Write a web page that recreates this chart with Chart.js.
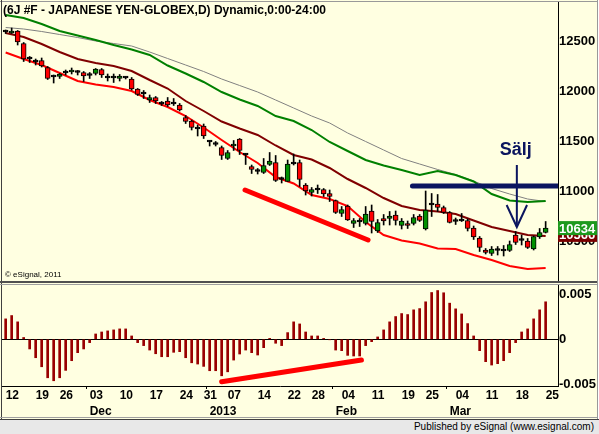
<!DOCTYPE html>
<html lang="en">
<head>
<meta charset="UTF-8">
<title>6J #F - Japanese Yen Globex</title>
<script src="https://cdn.jsdelivr.net/npm/chart.js"></script>
<style>
  html, body { margin: 0; padding: 0; background: #fff; }
  .wrap { position: relative; width: 599px; height: 434px; background: #FFFFE1; overflow: hidden;
          font-family: "Liberation Sans", Arial, sans-serif; }
  canvas { position: absolute; left: 0; }
  #priceChart { top: 0; }
  #oscChart { top: 284px; }
  .ln { position: absolute; }
  .title { position: absolute; left: 3px; top: 3px; font-size: 12px; font-weight: bold; color: #000; white-space: nowrap; }
  .copy { position: absolute; left: 5px; top: 270px; font-size: 8px; color: #000; white-space: nowrap; }
  .footer { position: absolute; left: 0; top: 420px; width: 599px; height: 14px; background: #E8E8E8; }
  .footer span { position: absolute; right: 5px; top: 1px; font-size: 10px; color: #000; white-space: nowrap; }
</style>
</head>
<body>
<div class="wrap">
  <canvas id="priceChart" width="599" height="284"></canvas>
  <canvas id="oscChart" width="599" height="136"></canvas>
  <div class="title">(6J #F - JAPANESE YEN-GLOBEX,D) Dynamic,0:00-24:00</div>
  <div class="copy">&copy; eSignal, 2011</div>
  <div class="ln" style="left:0;top:1px;width:599px;height:1px;background:#999"></div>
  <div class="ln" style="left:1px;top:0;width:1px;height:420px;background:#404040"></div>
  <div class="ln" style="left:597px;top:0;width:1px;height:434px;background:#999"></div>
  <div class="ln" style="left:598px;top:0;width:1px;height:434px;background:#fff"></div>
  <div class="ln" style="left:0;top:281px;width:597px;height:2px;background:#505050"></div>
  <div class="ln" style="left:0;top:284px;width:597px;height:1px;background:#A0A0A0"></div>
  <div class="ln" style="left:0;top:417px;width:597px;height:1px;background:#A0A0A0"></div>
  <div class="footer"><span>Published by eSignal (www.esignal.com)</span></div>
  <div class="ln" style="left:0;top:419px;width:599px;height:1px;background:#404040"></div>
</div>

<script>
// trading days, index 0 = Nov 12 2012 ... 90 = Mar 25 2013
const weekIdx = [0, 5, 9, 14, 19, 24, 29, 33, 37, 42, 47, 51, 56, 61, 66, 70, 75, 80, 85, 90];
const weekLabels = ['12', '19', '26', '03', '10', '17', '24', '31', '07', '14', '22', '28', '04', '11', '19', '25', '04', '11', '18', '25'];
const monthIdx = [14, 34, 55, 74];
const monthLabels = ['Dec', '2013', 'Feb', 'Mar'];
const priceTicks = [10500, 11000, 11500, 12000, 12500];
const oscTicks = [-0.005, 0, 0.005];
const oscTickLabels = ['-0.005', '0', '0.005'];

const open = [12600, 12585, 12605, 12480, 12330, 12300, 12310, 12240, 12150, 12150,
  12190, 12195, 12195, 12190, 12165, 12180, 12220, 12140, 12140, 12130,
  12140, 12125, 12025, 11980, 11915, 11940, 11880, 11905, 11880, 11865,
  11740, 11705, 11630, 11655, 11500, 11475, 11440, 11330, 11455, 11525,
  11370, 11250, 11205, 11190, 11270, 11290, 11125, 11100, 11280, 11290,
  11065, 10990, 11020, 11020, 10980, 10910, 10780, 10855, 10680, 10700,
  10680, 10805, 10605, 10730, 10730, 10765, 10660, 10680, 10680, 10755,
  10625, 10875, 10875, 10840, 10790, 10705, 10710, 10710, 10635, 10535,
  10415, 10380, 10415, 10410, 10410, 10565, 10515, 10505, 10425, 10545, 10590];
const high = [12615, 12635, 12610, 12490, 12350, 12325, 12335, 12250, 12165, 12180,
  12215, 12235, 12210, 12200, 12190, 12230, 12230, 12175, 12175, 12170,
  12150, 12140, 12030, 12010, 11965, 11950, 11900, 11940, 11930, 11880,
  11760, 11715, 11665, 11675, 11510, 11500, 11455, 11410, 11510, 11530,
  11380, 11265, 11230, 11330, 11390, 11360, 11145, 11315, 11375, 11315,
  11080, 11040, 11065, 11030, 11015, 10915, 10850, 10865, 10730, 10730,
  10850, 10865, 10720, 10770, 10800, 10805, 10730, 10705, 10770, 10770,
  11005, 10980, 10970, 10855, 10800, 10735, 10780, 10725, 10655, 10550,
  10430, 10450, 10450, 10460, 10505, 10600, 10565, 10530, 10555, 10630, 10700];
const low = [12580, 12580, 12465, 12300, 12290, 12265, 12245, 12120, 12085, 12130,
  12165, 12175, 12165, 12100, 12130, 12165, 12140, 12105, 12090, 12105,
  12125, 12015, 11960, 11930, 11890, 11880, 11860, 11850, 11860, 11805,
  11680, 11615, 11555, 11530, 11455, 11455, 11320, 11320, 11410, 11370,
  11270, 11180, 11175, 11180, 11260, 11100, 11085, 11100, 11265, 11050,
  10965, 10955, 10980, 10950, 10900, 10780, 10750, 10710, 10640, 10650,
  10665, 10585, 10590, 10665, 10665, 10665, 10625, 10630, 10665, 10700,
  10615, 10750, 10800, 10780, 10685, 10670, 10700, 10605, 10520, 10400,
  10375, 10360, 10365, 10355, 10400, 10470, 10465, 10430, 10415, 10530, 10585];
const close = [12595, 12605, 12495, 12325, 12325, 12295, 12255, 12130, 12145, 12175,
  12185, 12215, 12190, 12155, 12160, 12225, 12165, 12135, 12135, 12155,
  12135, 12025, 11970, 11975, 11940, 11905, 11875, 11865, 11875, 11815,
  11700, 11640, 11625, 11555, 11495, 11470, 11360, 11390, 11475, 11410,
  11365, 11220, 11200, 11260, 11305, 11110, 11120, 11275, 11275, 11120,
  11005, 11020, 11015, 10975, 10950, 10790, 10820, 10715, 10710, 10695,
  10775, 10700, 10690, 10705, 10755, 10710, 10705, 10660, 10740, 10710,
  10815, 10865, 10840, 10790, 10690, 10700, 10705, 10630, 10545, 10440,
  10390, 10425, 10410, 10405, 10470, 10490, 10510, 10440, 10550, 10590, 10634];

// envelope lines, read every third bar
const lineIdx = [0, 3, 6, 9, 12, 15, 18, 21, 24, 27, 30, 33, 36, 39, 42, 45, 48, 51, 54, 57, 60, 63, 66, 69, 72, 75, 78, 81, 84, 87, 90];
const upperGreen = [12765, 12735, 12675, 12605, 12560, 12515, 12465, 12420, 12365, 12260,
  12180, 12095, 11995, 11920, 11855, 11755, 11705, 11615, 11495, 11405,
  11315, 11260, 11215, 11165, 11205, 11165, 11100, 10975, 10910, 10895, 10905];
const grayAvg = [12640, 12625, 12600, 12570, 12540, 12505, 12480, 12455, 12395, 12330,
  12265, 12200, 12125, 12060, 11995, 11915, 11835, 11755, 11685, 11585,
  11500, 11415, 11330, 11275, 11220, 11170, 11105, 11030, 10975, 10925, 10900];
const midMaroon = [12585, 12545, 12475, 12395, 12325, 12285, 12255, 12205, 12115, 12030,
  11905, 11805, 11700, 11630, 11565, 11460, 11365, 11320, 11235, 11125,
  11035, 10935, 10855, 10815, 10800, 10775, 10710, 10645, 10605, 10565, 10555];
const lowerRed = [12390, 12325, 12265, 12185, 12105, 12070, 12045, 12005, 11915, 11845,
  11755, 11640, 11515, 11395, 11285, 11145, 11080, 10965, 10925, 10855,
  10695, 10565, 10510, 10480, 10430, 10425, 10365, 10315, 10255, 10225, 10235];

const osc = [0.00226, 0.00263, 0.00193, 0.0002, -0.00107, -0.00204, -0.00304, -0.00426, -0.00459, -0.00426,
  -0.00344, -0.00237, -0.00148, -0.00107, -0.00037, 0.00059, 0.00081, 0.00093, 0.00104, 0.00115,
  0.00115, 0.00037, -0.00037, -0.0007, -0.00119, -0.0016, -0.00193, -0.00193, -0.00144, -0.00137,
  -0.00204, -0.0026, -0.00274, -0.003, -0.00348, -0.00348, -0.00404, -0.0036, -0.0023, -0.00163,
  -0.00119, -0.00148, -0.00174, -0.00093, 0.0001, -0.00044, -0.0007, 0.00074, 0.00193, 0.0017,
  0.00081, 0.00037, 0.00037, 0.0001, -0.00005, -0.00119, -0.00126, -0.00178, -0.00185, -0.00185,
  -0.0007, -0.00026, 0.00026, 0.00104, 0.00193, 0.00252, 0.00285, 0.00274, 0.00326, 0.0034,
  0.00415, 0.00518, 0.0054, 0.00515, 0.004, 0.00337, 0.00281, 0.00174, 0.00037, -0.00126,
  -0.00248, -0.00285, -0.0027, -0.00237, -0.00148, -0.00037, 0.00081, 0.00115, 0.00226, 0.00326, 0.00415];

// hand drawn marks (bar index / price)
const priceTrendX = [39.9, 60.4];
const priceTrendY = [11015, 10515];
const oscTrendX = [36, 59.3];
const oscTrendY = [-0.0047, -0.0023];
const resistX = [67.8, 92.1];
const resistY = [11055, 11055];
const arrowX = [85.2, 85.2];
const arrowY = [11265, 10645];
const arrowHeadX = [83.5, 85.2, 86.9];
const arrowHeadY = [10865, 10645, 10865];
const lastPrice = 10634;
const maroonLast = 10566;

const xMin = -0.61, xMax = 92.06;
const navy = '#0B155F';

const bodyColor = open.map((o, i) => {
  const c = close[i];
  if (Math.abs(c - o) <= 10) return '#000';
  return c < o ? '#FF0000' : '#009000';
});

const pts = (xs, ys) => xs.map((x, i) => ({ x: x, y: ys[i] }));

// fixed axis width, and no extra room for half-labels at the ends
function rightAxisFit(scale) {
  scale.width = 41;
  scale.paddingTop = 0;
  scale.paddingBottom = 0;
}

const priceLabels = {
  id: 'priceLabels',
  afterDraw(chart) {
    const ctx = chart.ctx;
    const y = chart.scales.y;
    const x = chart.scales.x;
    ctx.save();
    ctx.font = 'bold 13px "Liberation Sans", Arial, sans-serif';
    ctx.textBaseline = 'middle';
    ctx.textAlign = 'left';
    let py = y.getPixelForValue(maroonLast);
    ctx.fillStyle = '#7A0000';
    ctx.fillRect(558, py - 7, 39, 14);
    ctx.fillStyle = '#fff';
    ctx.fillText(String(maroonLast), 559, py + 1);
    py = y.getPixelForValue(lastPrice);
    ctx.fillStyle = '#1E9A1E';
    ctx.fillRect(558, py - 7, 39, 14);
    ctx.fillStyle = '#fff';
    ctx.fillText(String(lastPrice), 559, py + 1);
    // Sälj
    ctx.font = 'bold 18px "Liberation Sans", Arial, sans-serif';
    ctx.fillStyle = navy;
    ctx.textAlign = 'center';
    ctx.textBaseline = 'alphabetic';
    ctx.fillText('Sälj', x.getPixelForValue(arrowX[0]) - 1, y.getPixelForValue(11370) + 0.5);
    ctx.restore();
  }
};

new Chart(document.getElementById('priceChart'), {
  type: 'bar',
  data: {
    datasets: [
      { type: 'line', data: pts(lineIdx, upperGreen), borderColor: '#008000', borderWidth: 2, pointRadius: 0, order: 5 },
      { type: 'line', data: pts(lineIdx, grayAvg), borderColor: '#808080', borderWidth: 1, pointRadius: 0, order: 5 },
      { type: 'line', data: pts(lineIdx, midMaroon), borderColor: '#800000', borderWidth: 2, pointRadius: 0, order: 5 },
      { type: 'line', data: pts(lineIdx, lowerRed), borderColor: '#FF0000', borderWidth: 2, pointRadius: 0, order: 5 },
      { type: 'bar', data: open.map((o, i) => ({ x: i, y: [low[i], high[i]] })),
        backgroundColor: '#000', barThickness: 1, grouped: false, order: 3 },
      { type: 'bar', data: open.map((o, i) => ({ x: i, y: [o, close[i]] })),
        backgroundColor: bodyColor, borderColor: '#000', borderWidth: 1, borderSkipped: false,
        barThickness: 5, minBarLength: 2, grouped: false, order: 2 },
      { type: 'line', data: pts(priceTrendX, priceTrendY), borderColor: '#FF0000', borderWidth: 5,
        borderCapStyle: 'round', pointRadius: 0, order: 1 },
      { type: 'line', data: pts(resistX, resistY), borderColor: navy, borderWidth: 5,
        borderCapStyle: 'round', pointRadius: 0, order: 1 },
      { type: 'line', data: pts(arrowX, arrowY), borderColor: navy, borderWidth: 2, pointRadius: 0, order: 1 },
      { type: 'line', data: pts(arrowHeadX, arrowHeadY), borderColor: navy, borderWidth: 2, pointRadius: 0, order: 1 }
    ]
  },
  options: {
    responsive: false,
    animation: false,
    devicePixelRatio: 1,
    layout: { autoPadding: false, padding: { left: 2, right: 0, top: 2, bottom: 2 } },
    plugins: { legend: { display: false }, tooltip: { enabled: false } },
    scales: {
      x: { type: 'linear', min: xMin, max: xMax, offset: false, display: false },
      y: {
        position: 'right', min: 10095, max: 12895,
        afterBuildTicks: (s) => { s.ticks = priceTicks.map(v => ({ value: v })); },
        afterFit: rightAxisFit,
        grid: { display: false, drawTicks: false },
        border: { display: true, color: '#000', width: 1 },
        ticks: { color: '#000', padding: 1, font: { size: 13, weight: 'bold', family: '"Liberation Sans", Arial, sans-serif' },
          callback: (v) => String(v) }
      }
    }
  },
  plugins: [priceLabels]
});

const monthTicks = {
  id: 'monthTicks',
  afterDraw(chart) {
    const ctx = chart.ctx;
    const x = chart.scales.x;
    ctx.save();
    ctx.strokeStyle = '#000';
    ctx.lineWidth = 1;
    monthIdx.forEach(m => {
      const px = Math.round(x.getPixelForValue(m - 0.6)) + 0.5;
      ctx.beginPath();
      ctx.moveTo(px, chart.chartArea.bottom);
      ctx.lineTo(px, chart.chartArea.bottom + 3);
      ctx.stroke();
    });
    ctx.restore();
  }
};

const tickFont = { size: 12, weight: 'bold', family: '"Liberation Sans", Arial, sans-serif' };

new Chart(document.getElementById('oscChart'), {
  type: 'bar',
  data: {
    datasets: [
      { type: 'line', data: pts(oscTrendX, oscTrendY), borderColor: '#FF0000', borderWidth: 5,
        borderCapStyle: 'round', pointRadius: 0, order: 1 },
      { type: 'bar', data: osc.map((v, i) => ({ x: i, y: v })), backgroundColor: '#990000',
        barThickness: 2, order: 2 }
    ]
  },
  options: {
    responsive: false,
    animation: false,
    devicePixelRatio: 1,
    layout: { autoPadding: false, padding: { left: 2, right: 0, top: 1, bottom: 0 } },
    plugins: { legend: { display: false }, tooltip: { enabled: false } },
    scales: {
      x: {
        type: 'linear', position: 'bottom', min: xMin, max: xMax, offset: false, weight: 0,
        afterBuildTicks: (s) => { s.ticks = weekIdx.map(v => ({ value: v })); },
        afterFit: (s) => { s.height = 16; s.paddingLeft = 0; s.paddingRight = 0; },
        grid: { display: false, drawTicks: false },
        border: { display: true, color: '#000', width: 1 },
        ticks: { color: '#000', align: 'start', autoSkip: false, maxRotation: 0, padding: 2, font: tickFont,
          callback: (v, i) => weekLabels[i] }
      },
      x2: {
        type: 'linear', position: 'bottom', min: xMin, max: xMax, offset: false, weight: 1,
        afterBuildTicks: (s) => { s.ticks = monthIdx.map(v => ({ value: v })); },
        afterFit: (s) => { s.height = 18; s.paddingLeft = 0; s.paddingRight = 0; },
        grid: { display: false, drawTicks: false },
        border: { display: false },
        ticks: { color: '#000', align: 'start', autoSkip: false, maxRotation: 0, padding: 2, font: tickFont,
          callback: (v, i) => monthLabels[i] }
      },
      y: {
        position: 'right', min: -0.00517, max: 0.00601,
        afterBuildTicks: (s) => { s.ticks = oscTicks.map(v => ({ value: v })); },
        afterFit: rightAxisFit,
        grid: { color: (c) => (c.tick && c.tick.value === 0 ? '#000' : 'rgba(0,0,0,0)'), drawTicks: false },
        border: { display: true, color: '#000', width: 1 },
        ticks: { color: '#000', padding: 1, font: { size: 13, weight: 'bold', family: '"Liberation Sans", Arial, sans-serif' },
          callback: (v, i) => oscTickLabels[i] }
      }
    }
  },
  plugins: [monthTicks]
});
</script>
</body>
</html>
